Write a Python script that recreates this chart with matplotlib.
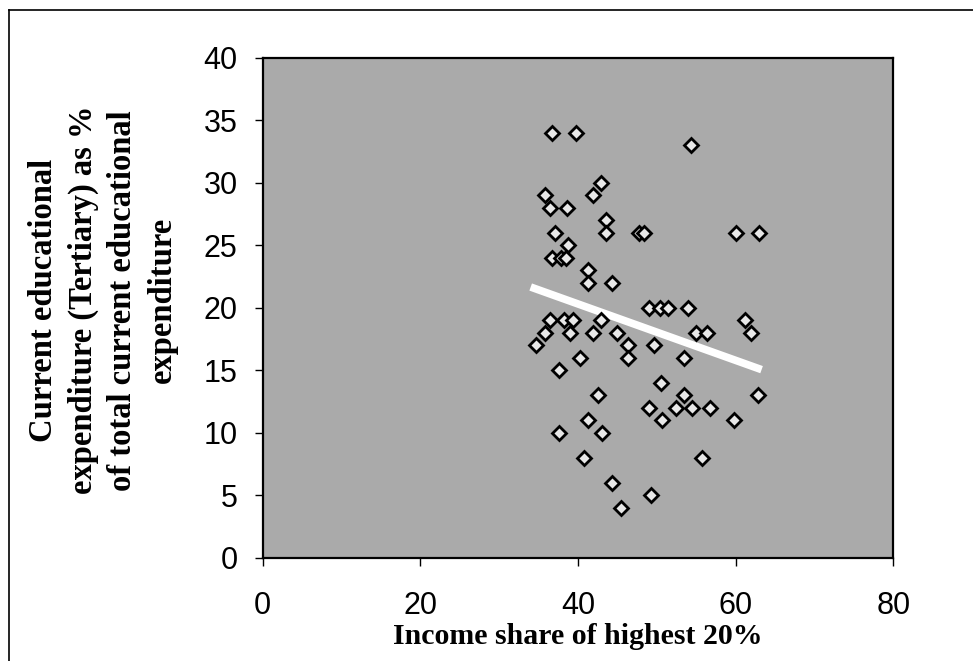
import matplotlib
matplotlib.use("Agg")
import matplotlib.pyplot as plt
from matplotlib.lines import Line2D
import numpy as np

# income share of highest 20% vs tertiary share of current educational expenditure
income_share = [36.7, 39.8, 54.3, 42.9, 35.8, 41.9, 36.5, 38.6, 43.6, 43.6,
                37.1, 47.8, 48.4, 60.0, 63.0, 38.7, 36.7, 37.9, 38.5, 41.3,
                41.3, 44.3, 49.0, 50.4, 51.4, 54.0, 36.5, 38.2, 39.4, 42.9,
                61.2, 35.8, 39.0, 41.9, 45.0, 55.0, 56.4, 61.9, 34.7, 46.4,
                49.7, 40.3, 46.4, 53.5, 37.6, 50.5, 42.5, 53.5, 62.8, 49.0,
                52.5, 54.5, 56.7, 41.3, 50.6, 59.8, 37.6, 43.1, 40.8, 55.8,
                44.3, 49.3, 45.5]
tertiary_share = [34, 34, 33, 30, 29, 29, 28, 28, 27, 26,
                  26, 26, 26, 26, 26, 25, 24, 24, 24, 23,
                  22, 22, 20, 20, 20, 20, 19, 19, 19, 19,
                  19, 18, 18, 18, 18, 18, 18, 18, 17, 17,
                  17, 16, 16, 16, 15, 14, 13, 13, 13, 12,
                  12, 12, 12, 11, 11, 11, 10, 10, 8, 8,
                  6, 5, 4]
x_ticks = [0, 20, 40, 60, 80]
y_ticks = [0, 5, 10, 15, 20, 25, 30, 35, 40]

fig = plt.figure(figsize=(9.73, 6.61), dpi=100)
ax = fig.add_axes([0.270, 0.156, 0.648, 0.757])
ax.set_facecolor("#aaaaaa")

x = np.array(income_share)
y = np.array(tertiary_share)

# linear trend over the data range
slope, intercept = np.polyfit(x, y, 1)
xs = np.array([x.min() - 0.7, x.max() + 0.3])
ax.plot(xs, slope * xs + intercept, color="white", lw=5.5, solid_capstyle="butt", zorder=2)

ax.plot(x, y, linestyle="none", marker="D", markersize=7,
        markerfacecolor="#e8e8e8", markeredgecolor="black", markeredgewidth=2.0, zorder=3)

ax.set_xlim(0, 80)
ax.set_ylim(0, 40)
ax.set_xticks(x_ticks)
ax.set_yticks(y_ticks)

tick_font = {"family": "Liberation Sans", "size": 22}
ax.set_xticklabels([str(t) for t in x_ticks], fontdict=tick_font)
ax.set_yticklabels([str(t) for t in y_ticks], fontdict=tick_font)
ax.tick_params(axis="x", direction="out", length=6, width=1, pad=18)
ax.tick_params(axis="y", direction="out", length=6, width=1, pad=12)

for s in ax.spines.values():
    s.set_linewidth(1.6)
    s.set_color("black")

ax.set_xlabel("Income share of highest 20%", family="Liberation Serif",
              weight="bold", size=21.5, labelpad=1)
ax.set_ylabel("Current educational\nexpenditure (Tertiary) as %\nof total current educational\nexpenditure",
              family="Liberation Serif", weight="bold", size=23.5, linespacing=1.35)
ax.yaxis.set_label_coords(-0.135, 0.515)

# outer frame of the scanned figure (left and top edges)
fig.add_artist(Line2D([9 / 973, 9 / 973], [0, 1 - 10 / 661], color="black", lw=1.2))
fig.add_artist(Line2D([9 / 973, 1], [1 - 10 / 661, 1 - 10 / 661], color="black", lw=1.2))

fig.savefig("out.png", dpi=100)
